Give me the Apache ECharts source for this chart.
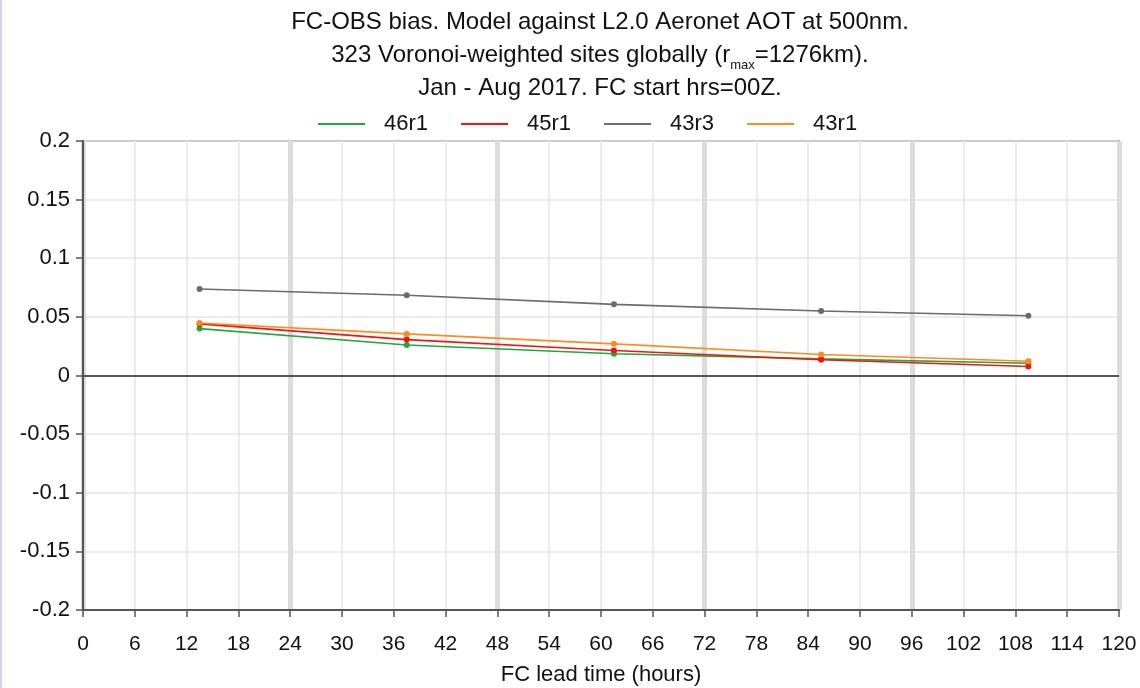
<!DOCTYPE html>
<html>
<head>
<meta charset="utf-8">
<script src="https://cdn.jsdelivr.net/npm/echarts@6/dist/echarts.min.js"></script>
<style>
  html, body { margin: 0; padding: 0; background: #fff; }
  #chart { width: 1140px; height: 688px; }
  #edge { position: absolute; left: 0; top: 0; width: 2px; height: 688px; background: #c9d9ea; }
</style>
</head>
<body>
<div id="chart"></div>
<div id="edge"></div>
<script>
// lead times (hours) and FC-OBS bias per model cycle
var leadTimes = [13.5, 37.5, 61.5, 85.5, 109.5]
var names = ['46r1', '45r1', '43r3', '43r1']
var colors = ['#1fa83e', '#f01414', '#6b6b6b', '#ff8a1c']
var bias46r1 = [0.040, 0.026, 0.0185, 0.0142, 0.0105]
var bias45r1 = [0.044, 0.0306, 0.0213, 0.0134, 0.0077]
var bias43r3 = [0.0738, 0.0684, 0.0607, 0.055, 0.051]
var bias43r1 = [0.0448, 0.0355, 0.027, 0.0179, 0.0122]
var seriesValues = [bias46r1, bias45r1, bias43r3, bias43r1]

var font = 'Liberation Sans, Arial, sans-serif'
var myChart = echarts.init(document.getElementById('chart'))

var series = names.map(function (name, i) {
    return {
        name: name,
        type: 'line',
        data: leadTimes.map(function (t, k) { return [t, seriesValues[i][k]] }),
        symbol: 'circle',
        symbolSize: 6,
        color: colors[i],
        lineStyle: { width: 1.6, color: colors[i] },
        itemStyle: { color: colors[i] },
        z: 3 + i
    }
})
// zero line
series[0].markLine = {
    silent: true,
    symbol: 'none',
    label: { show: false },
    lineStyle: { color: '#555', width: 2, type: 'solid' },
    data: [{ yAxis: 0 }]
}

myChart.setOption({
    animation: false,
    title: {
        text: 'FC-OBS bias. Model against L2.0 Aeronet AOT at 500nm.\n323 Voronoi-weighted sites globally (r{sub|max}=1276km).\nJan - Aug 2017. FC start hrs=00Z.',
        left: 600,
        textAlign: 'center',
        top: 6,
        padding: 0,
        textStyle: {
            fontFamily: font,
            fontSize: 24,
            fontWeight: 'normal',
            color: '#111',
            lineHeight: 33,
            rich: {
                sub: { fontFamily: font, fontSize: 13, color: '#111', verticalAlign: 'bottom', lineHeight: 26 }
            }
        }
    },
    legend: {
        top: 108,
        left: 313,
        icon: 'rect',
        itemWidth: 47,
        itemHeight: 2,
        itemGap: 33,
        textStyle: { fontFamily: font, fontSize: 22, color: '#111', padding: [0, 0, 0, 14] },
        data: names
    },
    grid: {
        left: 83, right: 21, top: 141, bottom: 78,
        outerBoundsMode: 'none',
        containLabel: false,
        show: true,
        borderColor: '#555',
        borderWidth: 1.5
    },
    xAxis: [{
        type: 'value',
        min: 0, max: 120, interval: 6,
        name: 'FC lead time (hours)',
        nameLocation: 'middle',
        nameGap: 54,
        nameTextStyle: { fontFamily: font, fontSize: 22, color: '#111' },
        axisLine: { onZero: false, lineStyle: { color: '#555', width: 2 } },
        axisTick: { show: true, length: 7, lineStyle: { color: '#555', width: 1.5 } },
        axisLabel: { fontFamily: font, fontSize: 21, color: '#111', margin: 24 },
        splitLine: { show: true, lineStyle: { color: '#e6e6e6', width: 1.5 } }
    }, {
        type: 'value',
        min: 0, max: 120, interval: 24,
        position: 'bottom',
        axisLine: { show: false },
        axisTick: { show: false },
        axisLabel: { show: false },
        splitLine: { show: true, lineStyle: { color: '#dcdcdc', width: 5 } }
    }],
    yAxis: {
        type: 'value',
        min: -0.2, max: 0.2, interval: 0.05,
        axisLine: { show: true, onZero: false, lineStyle: { color: '#555', width: 2 } },
        axisTick: { show: true, length: 7, lineStyle: { color: '#555', width: 1.5 } },
        axisLabel: { fontFamily: font, fontSize: 22, color: '#111', margin: 13 },
        splitLine: { show: true, lineStyle: { color: '#e6e6e6', width: 1.5 } }
    },
    series: series
})
</script>
</body>
</html>
